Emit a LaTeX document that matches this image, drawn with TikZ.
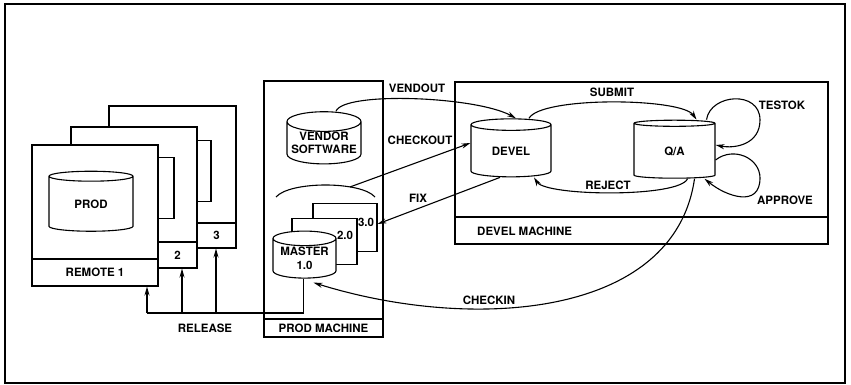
\documentclass[tikz,border=0pt]{standalone}
\usepackage{fontspec}
\setmainfont{TeX Gyre Heros}
\usetikzlibrary{arrows.meta,shapes.geometric,calc}
\tikzset{
  scmbox/.style={draw,fill=white,line width=1.1pt,inner sep=0pt},
  scmbar/.style={scmbox,anchor=south},
  scmdb/.style={cylinder,shape border rotate=90,aspect=0.3,draw,fill=white,
                line width=1.1pt,inner sep=0pt,align=center},
  scmarrow/.style={-{Stealth[length=9pt,width=5pt]},line width=1.1pt},
  scmline/.style={line width=1.1pt},
  scmlabel/.style={inner sep=0pt,align=center}
}

\begin{document}
\begin{tikzpicture}[x=1pt,y=-1pt,font=\fontsize{11.5}{13.5}\selectfont\bfseries]
  \useasboundingbox (0,0) rectangle (851,385);
  \draw[line width=2pt] (5,4) rectangle (845,383);

  % remote machines, back to front
  \node[scmbox,minimum width=127pt,minimum height=142pt] (r3) at (172.5,177) {};
  \node[scmbar,minimum width=127pt,minimum height=25pt] (r3bar) at (r3.south) {};
  \node[scmdb,minimum width=84pt,minimum height=61pt] (prod3) at (169,171.5) {};
  \node[scmlabel] (r3num) at (216.5,235.5) {3};

  \node[scmbox,minimum width=126pt,minimum height=141pt] (r2) at (134,197.5) {};
  \node[scmbar,minimum width=126pt,minimum height=26pt] (r2bar) at (r2.south) {};
  \node[scmdb,minimum width=84pt,minimum height=61pt] (prod2) at (132,188) {};
  \node[scmlabel] (r2num) at (177.5,255) {2};

  \node[scmbox,minimum width=126pt,minimum height=141pt] (r1) at (95,215.5) {};
  \node[scmbar,minimum width=126pt,minimum height=27pt] (r1bar) at (r1.south) {REMOTE 1};
  \node[scmdb,minimum width=84pt,minimum height=60pt] (prod1) at (91,204) {PROD};

  % prod machine
  \node[scmbox,minimum width=119pt,minimum height=256pt] (pm) at (323.5,209) {};
  \node[scmbar,minimum width=119pt,minimum height=18pt] (pmbar) at (pm.south) {PROD MACHINE};
  \node[scmdb,minimum width=74pt,minimum height=52pt] (vendor) at (324,143) {VENDOR\\SOFTWARE};
  \draw[scmline] (276,197) .. controls (290,181) and (361,181)
    .. coordinate[pos=0.7] (grp) (375,197);
  \node[scmdb,minimum width=64pt,minimum height=48pt] (v3) at (345,228) {};
  \node[scmdb,minimum width=65pt,minimum height=46pt] (v2) at (324.5,242) {};
  \node[scmdb,minimum width=63pt,minimum height=47pt] (master) at (304.5,258.5) {MASTER\\1.0};
  \node[scmlabel] (v3num) at (366,222) {3.0};
  \node[scmlabel] (v2num) at (345,235) {2.0};

  % devel machine
  \node[scmbox,minimum width=373pt,minimum height=162pt] (dm) at (641.5,163) {};
  \node[scmbar,minimum width=373pt,minimum height=27pt] (dmbar) at (dm.south) {};
  \node[scmlabel,anchor=west] (dmname) at (477,231) {DEVEL MACHINE};
  \node[scmdb,minimum width=80pt,minimum height=58pt] (devel) at (511,151) {DEVEL};
  \node[scmdb,minimum width=81pt,minimum height=58pt] (qa) at (674.5,151) {Q/A};

  % connectors
  \draw[scmarrow] ([xshift=12pt]vendor.north) .. controls +(8,-20) and +(-40,-22)
    .. ([xshift=5pt]devel.north);
  \draw[scmarrow] (grp) -- ([yshift=8pt]devel.west);
  \draw[scmarrow] ([xshift=-11pt]devel.south) -- ([yshift=4pt]v3.east);
  \draw[scmarrow] ([xshift=18pt]devel.north) .. controls +(12,-22) and +(-15,-22)
    .. ([xshift=22pt]qa.north);
  \draw[scmarrow] ([xshift=13pt]qa.south) .. controls +(-8,19) and +(12,19)
    .. ([xshift=23pt]devel.south);
  \draw[scmarrow] ([xshift=32pt]qa.north) .. controls +(4,-26) and +(0,-30)
    .. (760,120) .. controls +(0,24) and +(20,4) .. ([yshift=6pt]qa.east);
  \draw[scmarrow] ([yshift=-9pt]qa.east) .. controls +(18,-14) and +(0,-20)
    .. (760,178) .. controls +(0,30) and +(22,18) .. ([xshift=30pt]qa.south);
  \draw[scmarrow] ([xshift=20pt]qa.south) .. controls +(-20,140) and +(157,49)
    .. ([xshift=9pt,yshift=-4pt]master.south);

  % release
  \coordinate (rj1) at (147,313);
  \coordinate (rj2) at (182,313);
  \coordinate (rj3) at (216,313);
  \draw[scmline] ([xshift=-1pt]master.south) |- (rj1);
  \draw[scmarrow] (rj1) -- (rj1 |- r1.south);
  \draw[scmarrow] (rj2) -- (rj2 |- r2.south);
  \draw[scmarrow] (rj3) -- (rj3 |- r3.south);

  % labels
  \node[scmlabel] (lvendout) at (417,88) {VENDOUT};
  \node[scmlabel] (lcheckout) at (420,140) {CHECKOUT};
  \node[scmlabel] (lfix) at (418,198) {FIX};
  \node[scmlabel] (lsubmit) at (612,92) {SUBMIT};
  \node[scmlabel] (lreject) at (608,185) {REJECT};
  \node[scmlabel] (ltestok) at (782,105) {TESTOK};
  \node[scmlabel] (lapprove) at (785,200) {APPROVE};
  \node[scmlabel] (lcheckin) at (489,300) {CHECKIN};
  \node[scmlabel] (lrelease) at (205,328) {RELEASE};
\end{tikzpicture}
\end{document}
